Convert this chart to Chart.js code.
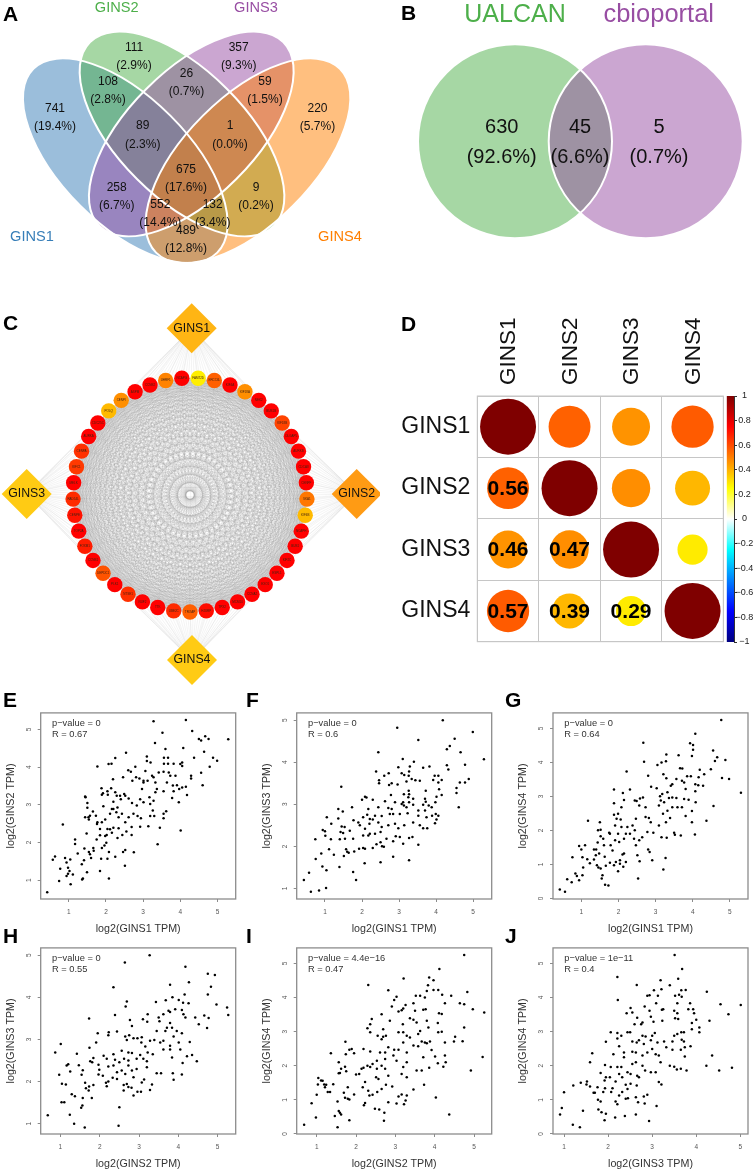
<!DOCTYPE html>
<html>
<head>
<meta charset="utf-8">
<title>GINS figure</title>
<script src="https://cdn.jsdelivr.net/npm/chart.js@4"></script>
<style>
  html, body { margin: 0; background: #fff; }
  #page { position: relative; width: 754px; height: 1170px; overflow: hidden; font-family: "Liberation Sans", Arial, sans-serif; }
  canvas { position: absolute; }
  .letter { position: absolute; font: bold 21px/21px "Liberation Sans", Arial, sans-serif; color: #000; }
</style>
</head>
<body>
<div id="page"></div>
<script>
// ---- panel A
const vennSets = ["GINS1", "GINS2", "GINS3", "GINS4"];
const vennCounts = ["741", "108", "111", "26", "357", "59", "220", "89", "1", "675", "258", "9", "552", "132", "489"];
const vennPercents = ["(19.4%)", "(2.8%)", "(2.9%)", "(0.7%)", "(9.3%)", "(1.5%)", "(5.7%)", "(2.3%)", "(0.0%)", "(17.6%)", "(6.7%)", "(0.2%)", "(14.4%)", "(3.4%)", "(12.8%)"];

// ---- panel B
const overlapSets = ["UALCAN", "cbioportal"];
const overlapCounts = ["630", "45", "5"];
const overlapPercents = ["(92.6%)", "(6.6%)", "(0.7%)"];

// ---- panel C, clockwise from the top of the ring
const ringGenes = ["FAM72D", "ERCC6L", "KIF4A", "KIF18A", "NEK2", "BUB1B", "KIF18B", "DLGAP5", "AURKB", "CDCA8", "CENPF", "SKA1", "KIF4B", "NCAPH", "BUB1", "KIF2C", "ESPL1", "EXO1", "CCNA2", "MCM10", "TPX2", "HJURP", "TROAP", "UBE2C", "TTK", "NUF2", "NTSE1", "PLK1", "DEPDC1", "CCNB1", "FOXM1", "TOP2A", "CENPE", "RAD54L", "MELK", "KIFC1", "CENPA", "AURKA", "CDC25C", "POLQ", "CENPI", "ASPM", "CCNB2", "UHRF1", "NCAPG"];
const ringScores = [0, .6, 1, .4, 1, 1, .72, 1, 1, 1, 1, .5, .22, 1, 1, 1, 1, 1, 1, 1, 1, .95, .6, .82, 1, 1, .8, 1, .65, 1, .88, 1, .92, .82, 1, .76, .8, 1, 1, .22, .4, 1, 1, .45, 1];
const hubGenes = ["GINS1", "GINS2", "GINS3", "GINS4"];
const hubScores = [.28, .5, .1, .1];

// ---- panel D
const corrLabels = ["GINS1", "GINS2", "GINS3", "GINS4"];
const corrGins1 = [1, .56, .46, .57];
const corrGins2 = [.56, 1, .47, .39];
const corrGins3 = [.46, .47, 1, .29];
const corrGins4 = [.57, .39, .29, 1];

// ---- panels E-J, [x, y] in log2 TPM
const pointsE = [[.42,.68],[.74,.98],[1.05,.89],[.57,1.54],[.63,1.63],[.77,1.3],[.9,1.59],[.94,1.47],[1.04,1.55],[.98,1.33],[1.02,1.24],[.98,1.17],[.94,1.11],[1.11,1.15],[.84,2.48],[1.17,2.08],[1.17,1.96],[1.24,1.71],[1.35,1.42],[1.41,1.53],[1.38,1.04],[1.36,1.02],[1.49,1.21],[1.42,1.84],[1.54,1.75],[1.57,1.69],[1.6,1.59],[1.66,1.85],[1.67,1.78],[1.48,2.24],[1.44,2.67],[1.44,3.22],[1.45,3.2],[1.5,3.05],[1.5,2.92],[1.53,2.67],[1.54,2.61],[1.57,2.71],[1.65,2.82],[1.73,2.71],[1.77,2.54],[1.76,2.49],[1.77,4.02],[1.88,3.44],[1.92,3.31],[1.89,3.27],[2.07,4.08],[2.15,4.09],[2.25,4.24],[2.54,4.38],[2.19,3.68],[2.04,3.36],[2.05,3.27],[2.14,3.44],[2.25,3.33],[2.29,3.24],[2.2,3.08],[2.38,3.24],[2.46,3.73],[2.49,3.29],[2.6,3.92],[2.67,3.88],[2.79,4.01],[2.71,3.64],[2.81,3.73],[2.9,3.7],[2.97,3.42],[3.01,3.59],[3.12,3.64],[3.1,4.28],[3.1,4.16],[3.2,4.12],[3.28,5.22],[3.32,4.64],[3.52,4.91],[3.6,4.48],[3.56,4.25],[3.67,4.25],[3.56,4.09],[3.67,4.09],[4.15,5.25],[4.08,4.51],[4.32,4.96],[4.5,4.75],[4.56,4.71],[4.67,4.82],[4.76,4.75],[5.29,4.74],[4.64,4.41],[4.37,4.25],[4.88,4.25],[4.99,4.17],[4.79,4.01],[4.56,3.85],[4.6,3.52],[4.29,3.77],[4.29,3.7],[4.05,4.12],[4,4.08],[3.82,4.09],[4.05,4.03],[4.18,3.26],[4.01,2.32],[3.39,1.95],[3.45,2.39],[2.75,1.74],[2.51,1.38],[2.25,1.62],[2.08,1.04],[1.84,1.24],[2.08,1.75],[2.04,1.57],[1.87,1.57],[1.96,1.92],[2.01,1.99],[1.89,1.85],[1.75,2.08],[1.84,2.19],[1.98,2.17],[2.02,2.2],[2.04,2.36],[2.11,2.35],[2.16,2.26],[2.2,2.39],[2.34,2.38],[2.31,2.12],[2.44,2.2],[2.55,2.29],[2.69,2.41],[2.92,2.42],[3.14,2.43],[2.69,2.2],[2.46,1.75],[2.52,1.8],[1.84,2.36],[1.89,2.54],[1.98,2.61],[1.93,2.96],[2.11,2.76],[2.2,2.89],[2.28,2.8],[2.34,2.67],[2.43,2.76],[2.52,2.54],[2.61,2.67],[2.7,3.05],[2.74,2.76],[2.83,2.98],[2.85,2.7],[2.94,2.64],[3.01,3.07],[3.17,3.2],[3.19,3.02],[3.28,3.11],[3.19,2.7],[3.3,2.7],[3.26,2.85],[3.55,2.64],[3.62,2.83],[3.55,2.76],[3.64,3.59],[3.69,3.86],[3.73,3.77],[3.8,3.51],[3.87,3.77],[3.91,3.52],[3.97,3.42],[4.05,3.46],[4.15,3.48],[3.96,3.07],[3.82,3.36],[3.78,3.18],[3.55,3.36],[3.37,3.42],[3.33,3.59],[3.24,3.77],[3.42,3.86],[3.55,3.88],[3.06,3.9],[3.28,3.73],[3.01,3.64],[3.33,3.33],[2.92,3.15],[2.61,3.17],[2.52,3.24],[2.4,3.15],[2.31,2.93],[2.16,2.89]];
const pointsF = [[.43,1.2],[.57,1.37],[.62,.92],[.84,.95],[1.03,1.01],[1.04,1.43],[.93,1.52],[.75,1.7],[.74,2.17],[.9,1.83],[1.11,1.93],[1.24,1.8],[1.39,1.51],[.94,2.39],[1,2.36],[1.01,2.25],[1.17,2.54],[1.05,2.69],[1.16,2.17],[1.36,2.66],[1.36,2.89],[1.48,2.83],[1.44,3.42],[1.4,2.17],[1.42,2.34],[1.45,2.47],[1.53,2.46],[1.49,2.32],[1.54,2.18],[1.51,1.77],[1.57,1.93],[1.6,1.87],[1.64,1.85],[1.67,2.37],[1.73,2.93],[1.77,2.62],[1.76,2.18],[1.79,1.88],[1.76,1.39],[1.84,1.2],[2.07,1.6],[1.92,1.94],[2.03,1.96],[2.08,1.94],[2.5,1.62],[2.84,1.75],[3.27,1.67],[2.54,2],[2.59,1.99],[2.29,1.96],[2.39,2.05],[2,3.11],[2.08,3.18],[2.12,3.16],[2.29,3.11],[2.38,3.78],[2.44,4.24],[2.46,3.57],[2.46,3.5],[2.6,3.68],[2.72,3.74],[2.95,4.82],[3.52,4.53],[4.18,5],[4.99,4.72],[4.5,4.56],[4.37,4.39],[4.29,4.31],[4.66,4.24],[5.29,4.07],[4.78,3.94],[4.29,3.93],[4.33,3.83],[4.55,3.39],[4.55,3.27],[4.64,3.52],[4.78,3.52],[4.88,3.6],[4.61,2.93],[3.1,4.08],[3.4,4.01],[3.29,3.9],[2.98,3.88],[3.65,3.87],[3.82,3.9],[3.07,3.74],[3.14,3.7],[3.27,3.78],[3.26,3.68],[3.2,3.54],[2.96,3.47],[2.8,3.5],[2.73,3.46],[3.34,3.6],[3.44,3.57],[3.56,3.56],[3.96,3.68],[4.06,3.68],[3.92,3.58],[4.15,3.58],[4.06,3.52],[4.08,3.36],[4.15,3.22],[4.01,3.18],[3.72,3.32],[3.26,3.32],[3.27,3.24],[3.13,3.24],[2.78,3.22],[2.62,3.07],[2.89,3.05],[3.11,3.05],[3.25,3.17],[3.27,3.05],[3.38,3.13],[3.38,2.99],[3.7,3.13],[3.72,3.06],[3.65,2.99],[3.8,2.97],[3.88,2.93],[3.98,3.05],[3.52,2.85],[3.52,2.73],[3.7,2.85],[3.74,2.69],[3.89,2.73],[3.99,2.77],[4.06,2.73],[3.97,2.55],[4.01,2.64],[3.65,2.43],[3.56,2.5],[3.76,2.43],[3.23,2.79],[3.02,2.77],[3.13,2.97],[3.07,3.01],[3.2,2.93],[2.71,2.91],[2.8,2.89],[2.84,2.77],[2.75,2.77],[2.53,2.72],[2.44,2.93],[2.35,2.73],[2.21,2.65],[2.14,2.75],[2.17,2.89],[2.03,2.69],[1.9,2.57],[1.94,2.5],[2.08,2.42],[2.2,2.54],[2.29,2.64],[2.44,2.57],[2.53,2.46],[2.71,2.5],[2.89,2.54],[3.14,2.5],[3.38,2.57],[2.98,2.43],[2.03,2.26],[2.17,2.26],[2.21,2.3],[2.35,2.3],[2.5,2.34],[2.5,2.1],[2.66,2.18],[2.84,2.12],[3.11,2.06],[3.27,2.2],[3.36,2.22],[3.52,2.04],[3.02,2.22],[2.91,2.24]];
const pointsG = [[.42,.26],[.56,.19],[.62,.56],[.74,.47],[.76,1.21],[.84,.73],[.94,.53],[.88,.66],[1.03,.68],[1.05,.91],[.94,1.54],[1,1.44],[1.1,1.56],[1.03,1.21],[1.16,1.15],[1.23,1.03],[1.34,1.14],[1.42,.97],[1.46,.91],[1.52,.88],[1.57,.68],[1.55,.58],[1.64,.4],[1.73,.38],[1.18,2.28],[1.5,2.24],[1.34,1.44],[1.4,1.44],[1.44,1.64],[1.48,1.32],[1.39,1.27],[1.45,2],[1.52,2.02],[1.52,1.83],[1.59,1.75],[1.61,1.56],[1.75,1.93],[1.77,1.9],[1.79,1.56],[1.84,1.41],[1.63,1.22],[1.66,.96],[1.77,1.05],[1.88,.97],[1.93,1.07],[1.99,.8],[2.04,1.12],[2.04,1.02],[2.13,.93],[2.2,1.07],[2.11,1.29],[2.15,1.32],[1.91,1.71],[2.02,1.66],[2.15,1.75],[1.99,1.9],[2.08,2.1],[1.91,2.14],[1.88,2.46],[1.95,2.34],[2.06,2.32],[1.99,2.49],[1.88,2.8],[1.88,3.2],[2.08,2.68],[2.12,3.1],[2.31,3.2],[2.22,3.73],[2.15,2.89],[2.44,2.88],[2.49,2.86],[2.58,2.94],[2.66,2.97],[2.67,4.58],[2.69,4.02],[2.8,3.61],[2.88,3.28],[3.03,3.24],[3.05,3.92],[3.16,4],[3.28,4.03],[3.29,4.23],[3.62,4.21],[3.93,4.56],[4.01,4.51],[4.07,4.84],[4.01,4.37],[3.98,4.19],[4.77,5.25],[4.55,4.35],[4.66,4.15],[4.6,4.04],[4.88,4.07],[4.49,3.8],[4.19,3.78],[4.31,3.65],[4.16,3.56],[4.79,3.54],[4.98,3.51],[5.3,3.11],[4.56,2.72],[4.37,2.28],[4.06,1.88],[3.98,2.24],[3.98,2.57],[4.08,2.83],[4.07,3.15],[4.28,3.31],[4.15,3.33],[4.07,3.36],[3.85,3.59],[3.95,3.59],[3.66,3.83],[3.72,3.82],[3.71,3.46],[3.77,3.41],[3.81,3.22],[3.56,3.51],[3.45,3.36],[3.41,3.31],[3.29,3.53],[3.21,3.65],[3.32,3.12],[3.18,3.07],[3.12,3],[3.14,2.88],[3.09,2.73],[3.23,2.83],[3.36,2.95],[3.45,2.97],[3.56,2.95],[3.45,2.68],[3.59,2.68],[3.71,2.68],[3.77,2.92],[3.89,2.9],[3.81,2.42],[3.32,2.58],[3.2,2.49],[3.39,2.36],[3.28,2.24],[3.5,1.93],[3.68,1.85],[3.52,1.87],[3.3,1.78],[3.16,1.8],[3.27,1.19],[3.21,.85],[2.91,1.12],[2.84,1.36],[2.8,1.44],[2.53,.58],[2.57,1.09],[2.51,1.27],[2.47,1.56],[2.56,1.71],[2.64,1.8],[2.78,1.95],[2.94,1.93],[3.09,2.14],[2.87,2.24],[2.73,2.39],[2.82,2.36],[2.47,2.34],[2.56,2.73],[2.73,2.68],[2.38,2.14],[2.44,2],[2.24,2.1],[2.31,1.9],[2.2,1.9],[2.42,1.75]];
const pointsH = [[.68,1.2],[1.03,1.51],[1.1,1.51],[1.24,1.21],[1.35,1],[1.62,.91],[2.48,.95],[2.5,1.39],[1.53,1.38],[1.56,1.43],[1.57,1.61],[1.8,1.61],[1.37,1.65],[1.29,1.7],[1.72,1.79],[1.73,1.88],[1.65,1.84],[1.63,1.97],[1.84,1.92],[1.54,2.16],[1.57,2.27],[1.47,2.39],[1.42,2.66],[1.25,2.24],[1.2,2.41],[1.16,2.38],[1.14,1.93],[1.04,1.95],[.97,2.16],[.87,2.69],[1.01,2.89],[1.74,2.8],[1.73,3.5],[1.95,3.15],[1.91,2.93],[1.76,2.48],[1.81,2.46],[1.84,2.56],[1.97,2.4],[1.97,2.17],[1.99,2.28],[2.08,2.14],[2.16,1.97],[2.18,1.89],[2.22,2],[2.33,2.09],[2.44,2.06],[2.61,1.79],[2.86,1.67],[2.96,1.76],[3.05,1.76],[3.28,1.8],[2.73,1.87],[2.61,1.92],[2.69,1.94],[2.81,1.85],[3.07,1.98],[3.13,2.05],[3.33,1.93],[2.35,4.24],[2.64,4.83],[3.27,5],[4.18,4.73],[4.27,4.36],[4.75,4.56],[4.93,4.53],[4.83,4.25],[4.75,4.07],[4.97,3.83],[5.24,3.76],[5.27,3.58],[3.79,4.3],[4.16,4.07],[3.68,3.93],[3.85,4],[3.43,3.89],[2.69,3.9],[2.66,3.78],[2.39,3.58],[2.44,3.19],[2.23,3.17],[2.22,3.1],[3.22,3.6],[3.1,3.48],[3.21,3.42],[2.77,3.46],[2.82,3.32],[2.75,3.1],[2.65,3.07],[2.69,2.99],[2.86,3.03],[2.96,3.03],[3.07,3.05],[3.06,2.93],[3.16,2.83],[3.22,2.69],[3.28,2.97],[3.39,2.99],[3.35,2.65],[3.5,3.52],[3.52,3.43],[3.62,3.6],[3.75,3.68],[3.79,3.65],[3.92,3.72],[4.09,3.7],[4.13,3.6],[4.01,3.94],[4.12,3.87],[4.26,3.86],[4.18,3.52],[4.43,3.52],[4.66,3.57],[4.77,3.51],[4.52,3.36],[4.73,3.27],[3.71,3.28],[3.79,3.39],[3.84,3.28],[3.67,3.2],[3.45,3.2],[3.96,3.2],[4.09,3.15],[3.88,3.07],[3.62,2.97],[3.54,2.93],[3.79,2.85],[4.01,2.93],[4.29,2.94],[3.62,2.76],[3.79,2.76],[4.05,2.76],[4.35,2.63],[4.22,2.6],[4.47,2.48],[3.84,2.57],[4.11,2.44],[4.09,2.17],[3.86,2.2],[3.88,2.04],[3.56,2.2],[3.45,2.2],[3.03,2.63],[3.11,2.54],[3.2,2.48],[2.94,2.54],[2.82,2.68],[2.73,2.69],[2.56,2.73],[2.35,2.65],[2.1,2.61],[2.39,2.52],[2.62,2.54],[2.73,2.5],[2.5,2.46],[2.18,2.54],[2.22,2.36],[2.35,2.38],[2.44,2.22],[2.56,2.26],[2.73,2.38],[2.82,2.26],[2.94,2.3],[3.2,2.34],[2.65,2.18],[2.86,2.1]];
const pointsI = [[.68,.27],[.98,.48],[.87,.9],[1,1.15],[1.03,1.45],[1.04,1.64],[1.11,1.57],[1.15,1.56],[1.19,1.45],[1.21,1.37],[1.24,1.44],[1.28,1.23],[1.34,1.23],[1.42,1.46],[1.36,2.37],[1.46,.53],[1.53,.2],[1.56,.67],[1.59,.62],[1.62,.57],[1.53,.95],[1.83,.4],[1.69,1.21],[1.72,1.06],[1.79,1.03],[1.83,1.01],[1.79,1.37],[1.95,1.16],[1.56,2.1],[1.56,1.78],[1.59,1.79],[1.62,1.91],[1.72,1.97],[1.75,1.84],[1.73,2.7],[1.74,2.34],[1.83,2.47],[1.89,2.49],[1.95,2.37],[2,1.74],[2.08,1.76],[2.14,1.91],[2.19,1.94],[2.19,2.49],[2.36,2.42],[2.31,4.37],[2.2,.84],[2.23,.91],[2.17,1.37],[2.23,1.52],[2.31,1.27],[2.34,1.13],[2.42,1.15],[2.48,.74],[2.59,.72],[2.72,.62],[2.71,.39],[2.82,.93],[2.65,1.32],[2.54,1.23],[2.76,1.44],[2.92,1.39],[3.03,.89],[3.08,1.1],[3.16,1.16],[3.22,.87],[3.26,.98],[3.29,1.13],[3.46,1.3],[4.37,.57],[4.03,1.07],[3.73,1.44],[4.92,1.86],[5.22,2.26],[4.75,5.25],[4.12,4.84],[3.21,4.56],[3.86,4.59],[3.97,4.51],[3.83,4.36],[3.8,4.19],[3.97,4.22],[4.09,4.22],[4.19,4.08],[4.42,4.05],[4.83,4.16],[2.82,4.21],[3.03,4.02],[2.97,3.93],[2.91,3.74],[3.52,4.05],[3.63,4.05],[3.75,4],[3.46,3.83],[3.26,3.78],[4.26,3.83],[4.64,3.83],[4.75,3.8],[4.97,3.66],[5.26,3.56],[4.11,3.54],[4.18,3.52],[4.75,3.12],[4.71,2.72],[4.52,2.85],[4.49,2.71],[4.26,2.68],[4.26,2.3],[4.28,2.1],[4.22,1.97],[4.08,2.07],[4.01,2.27],[3.92,2.46],[3.86,1.94],[3.88,2.71],[3.8,2.66],[3.75,2.68],[4.09,2.98],[4.18,3],[4.08,3.25],[3.8,3.32],[3.84,3.12],[3.71,3.64],[3.77,3.66],[3.5,3.61],[3.37,3.39],[3.46,3.35],[3.54,3.27],[3.08,3.59],[3.16,3.63],[3.2,3.68],[3.19,3.22],[2.65,3.51],[2.4,3.37],[2.36,3.22],[2.29,3.1],[2.36,2.98],[2.55,2.88],[2.65,2.78],[2.69,3.07],[2.76,2.88],[2.86,3.32],[2.69,2.85],[3.08,2.98],[3.2,2.98],[3.29,2.88],[3.37,2.83],[3.63,3.02],[3.58,2.93],[3.2,2.68],[3.08,2.47],[2.97,2.47],[2.82,2.54],[2.74,2.39],[2.61,2.39],[2.95,2.3],[3.29,2.39],[3.46,2.59],[3.58,2.57],[3.67,2.71],[3.71,2.25],[3.54,1.86],[3.67,1.86],[3.29,2.1],[3.2,1.96],[3.16,1.76],[3.29,1.66],[3.03,2.15],[2.74,2.2],[2.53,2.15],[2.42,2.05],[2.53,1.91],[2.65,2],[2.74,1.91],[2.82,1.71],[2.51,1.66],[2.57,1.61],[2.36,1.96],[2.29,2]];
const pointsJ = [[.91,.57],[.95,.76],[1,1.22],[1.2,.27],[1.36,.2],[1.43,.68],[1.21,1.42],[1.38,1.5],[1.52,1.54],[1.51,1.45],[1.59,1.39],[1.59,2.1],[1.64,2.37],[1.67,1.21],[1.7,1.21],[1.76,1.37],[1.77,1],[1.78,.72],[1.85,.64],[1.92,.4],[1.95,.59],[1.83,.95],[1.93,1.34],[1.89,1.23],[1.83,1.79],[1.93,2.02],[1.95,1.66],[1.92,1.57],[1.95,2.7],[2.12,2.34],[2.06,2.98],[2.21,4.6],[2.22,3.93],[2.21,2.96],[2.21,2.8],[2.3,2.88],[2.25,2.57],[2.36,2.39],[2.44,2.98],[2.5,2.98],[2.42,3.54],[2.51,3.69],[2.55,3.56],[2.6,3.22],[2.65,4.37],[2.66,3.41],[2.78,3.27],[2.75,3.22],[2.83,3.74],[2.89,4.05],[2.94,4.07],[2.94,3.61],[2.97,3.44],[3.04,4.21],[3.13,4.05],[3.19,4.51],[3.21,4.24],[3.09,3.83],[3.22,3.64],[3.25,3.66],[3.23,3.32],[3.03,3.29],[3.4,4.36],[3.51,5.25],[3.68,4.84],[3.59,4.55],[3.66,4.21],[3.76,4.22],[3.61,4.08],[3.52,4.05],[3.67,4.02],[3.57,3.83],[3.5,3.61],[3.57,3.54],[3.52,3.39],[3.59,3.37],[3.86,3.83],[3.82,3.66],[3.93,3.66],[3.95,3.54],[3.9,3.25],[4,3.35],[3.9,3.07],[4.07,3.12],[4.07,2.98],[4.24,4.17],[4.55,3.8],[4.73,3.51],[5.01,3.78],[4.3,3.32],[4.36,2.3],[4.23,2],[4.52,1.86],[4.81,1.94],[3.87,2.57],[3.72,2.98],[3.66,2.98],[3.67,2.76],[3.72,2.71],[3.74,2.54],[3.74,2.27],[3.78,1.86],[3.65,1.91],[3.56,1.89],[3.5,1.97],[3.4,2],[3.57,2.93],[3.5,2.88],[3.46,2.71],[3.65,2.47],[3.46,2.47],[3.27,2.71],[3.32,2.54],[3.12,2.68],[3,2.88],[2.97,2.75],[3.06,2.96],[2.85,2.86],[2.78,2.88],[2.7,2.75],[2.65,2.68],[2.81,2.64],[2.55,2.71],[2.36,2.25],[2.55,2.41],[2.63,2.39],[2.78,2.3],[2.89,2.39],[3,2.49],[3.08,2.34],[3.15,2.3],[3.19,2.1],[3.08,1.81],[2.97,1.81],[2.84,1.86],[2.78,2],[2.63,2.1],[2.55,2.05],[2.7,1.66],[2.66,1.71],[3.15,1.52],[3.21,1.45],[3.1,.82],[2.93,.38],[2.63,.57],[2.38,.53],[2.16,.48],[2.21,.87],[2.17,.95],[2.4,1.03],[2.45,1.05],[2.63,1.08],[2.68,.93],[2.83,.89],[2.81,1.1],[2.89,1.15],[2.65,1.42],[2.51,1.47],[2.4,1.44],[2.44,1.32],[2.32,1.23],[2.25,1.13],[2.1,1.34],[2.07,1.23],[2.32,1.66],[2.25,1.76],[2.44,1.81],[2.21,1.96],[2.3,1.96],[2.06,1.96],[2.17,1.54],[2.04,1.66],[2.51,1.76]];

const scatterNames = ["E", "F", "G", "H", "I", "J"];
const xTitles = ["log2(GINS1 TPM)", "log2(GINS1 TPM)", "log2(GINS1 TPM)", "log2(GINS2 TPM)", "log2(GINS2 TPM)", "log2(GINS3 TPM)"];
const yTitles = ["log2(GINS2 TPM)", "log2(GINS3 TPM)", "log2(GINS4 TPM)", "log2(GINS3 TPM)", "log2(GINS4 TPM)", "log2(GINS4 TPM)"];
const pValues = ["p\u2212value = 0", "p\u2212value = 0", "p\u2212value = 0", "p\u2212value = 0", "p\u2212value = 4.4e\u221216", "p\u2212value = 1e\u221211"];
const rValues = ["R = 0.67", "R = 0.6", "R = 0.64", "R = 0.55", "R = 0.47", "R = 0.4"];

const FONT = '"Liberation Sans", Arial, sans-serif';
const page = document.getElementById("page");
Chart.defaults.font.family = FONT;
Chart.defaults.animation = false;
Chart.defaults.responsive = false;
Chart.defaults.layout.autoPadding = false;
Chart.defaults.plugins.legend.display = false;
Chart.defaults.plugins.tooltip.enabled = false;

function addChart(left, top, width, height, config) {
  const canvas = document.createElement("canvas");
  canvas.width = width;
  canvas.height = height;
  canvas.style.left = left + "px";
  canvas.style.top = top + "px";
  canvas.style.width = width + "px";
  canvas.style.height = height + "px";
  page.appendChild(canvas);
  return new Chart(canvas.getContext("2d"), config);
}

function addLetter(text, left, top) {
  const d = document.createElement("div");
  d.className = "letter";
  d.textContent = text;
  d.style.left = left + "px";
  d.style.top = top + "px";
  page.appendChild(d);
}

// scales in page pixels, for the panels that have no axes
function pixelScales(left, top, width, height) {
  return {
    x: { type: "linear", display: false, min: left, max: left + width },
    y: { type: "linear", display: false, min: top, max: top + height, reverse: true }
  };
}

// text items: {x, y, text, font, color}
const textItems = {
  id: "textItems",
  afterDatasetsDraw(chart, args, opts) {
    const ctx = chart.ctx;
    ctx.save();
    ctx.textAlign = "center";
    ctx.textBaseline = "middle";
    (opts.items || []).forEach(t => {
      ctx.font = t.font;
      ctx.fillStyle = t.color || "#111";
      ctx.fillText(t.text, chart.scales.x.getPixelForValue(t.x), chart.scales.y.getPixelForValue(t.y));
    });
    ctx.restore();
  }
};

// ---- A: four ellipses
const ellipseX = [125.3, 182, 191.3, 248];
const ellipseY = [160.7, 134, 134, 160.7];
const ellipseTilt = [45, 45, -45, -45];
const vennColors = ["#377EB8", "#4DAF4A", "#984EA3", "#FF7F00"];
const ellipses = {
  id: "ellipses",
  beforeDatasetsDraw(chart) {
    const ctx = chart.ctx, sx = chart.scales.x, sy = chart.scales.y;
    const trace = i => {
      ctx.beginPath();
      ctx.ellipse(sx.getPixelForValue(ellipseX[i]), sy.getPixelForValue(ellipseY[i]), 130, 63.7, ellipseTilt[i] * Math.PI / 180, 0, 2 * Math.PI);
    };
    ctx.save();
    ctx.globalAlpha = 0.5;
    vennColors.forEach((c, i) => { ctx.fillStyle = c; trace(i); ctx.fill(); });
    ctx.globalAlpha = 1;
    ctx.strokeStyle = "#fff";
    ctx.lineWidth = 2;
    vennColors.forEach((c, i) => { trace(i); ctx.stroke(); });
    ctx.restore();
  }
};
const vennX = [55, 108, 134, 186.5, 238.7, 265, 317.5, 142.7, 230, 186, 116.7, 256, 160.3, 212.7, 186];
const vennY = [117.7, 90.7, 56.3, 82.5, 56.3, 90.7, 117.7, 135, 135, 178.5, 196.5, 196.5, 213.5, 213.5, 239.5];
const vennItems = [];
vennCounts.forEach((c, i) => {
  vennItems.push({ x: vennX[i], y: vennY[i] - 9, text: c, font: "12px " + FONT });
  vennItems.push({ x: vennX[i], y: vennY[i] + 9.3, text: vennPercents[i], font: "12px " + FONT });
});
const vennNameX = [32, 116.7, 256, 340];
const vennNameY = [236.5, 7.5, 7.5, 236.5];
vennSets.forEach((s, i) => vennItems.push({ x: vennNameX[i], y: vennNameY[i], text: s, font: "14.6px " + FONT, color: vennColors[i] }));
addChart(0, 0, 380, 280, {
  type: "scatter",
  data: { datasets: [{ data: ellipseX.map((x, i) => ({ x, y: ellipseY[i] })), pointRadius: 0 }] },
  options: { scales: pixelScales(0, 0, 380, 280), plugins: { textItems: { items: vennItems } } },
  plugins: [ellipses, textItems]
});

// ---- B: two circles, fills first and the white outlines over both
const overlapColors = ["rgba(77,175,74,.5)", "rgba(152,78,163,.5)"];
const overlapCentres = [{ x: 515, y: 141.3 }, { x: 645.7, y: 141.3 }];
const overlapItems = [
  { x: 515, y: 15, text: overlapSets[0], font: "25px " + FONT, color: "#4DAF4A" },
  { x: 658.7, y: 15, text: overlapSets[1], font: "25.5px " + FONT, color: "#984EA3" }
];
[501.7, 580, 659].forEach((x, i) => {
  overlapItems.push({ x, y: 127, text: overlapCounts[i], font: "20px " + FONT });
  overlapItems.push({ x, y: 157.5, text: overlapPercents[i], font: "20px " + FONT });
});
addChart(380, 0, 374, 270, {
  type: "scatter",
  data: { datasets: [
    { data: [overlapCentres[0]], pointRadius: 97, backgroundColor: overlapColors[0], borderWidth: 0, clip: false, order: 3 },
    { data: [overlapCentres[1]], pointRadius: 97, backgroundColor: overlapColors[1], borderWidth: 0, clip: false, order: 2 },
    { data: overlapCentres, pointRadius: 97, backgroundColor: "rgba(0,0,0,0)", borderColor: "#fff", borderWidth: 2, clip: false, order: 1 }
  ] },
  options: { scales: pixelScales(380, 0, 374, 270), plugins: { textItems: { items: overlapItems } } },
  plugins: [textItems]
});

// ---- C: network
const RING_X = 190, RING_Y = 495, RING_R = 117;
const ringPoints = ringGenes.map((g, i) => {
  const a = (4 + i * 8) * Math.PI / 180;
  return { x: RING_X + RING_R * Math.sin(a), y: RING_Y - RING_R * Math.cos(a) };
});
const hubPoints = [{ x: 191.7, y: 328.3 }, { x: 356.7, y: 494 }, { x: 26.7, y: 494 }, { x: 192, y: 660 }];
const scoreColor = s => `rgb(255,${Math.round(238 * (1 - s))},0)`;

const meshEdges = [];
ringPoints.forEach((p, i) => {
  for (let j = i + 1; j < ringPoints.length; j++) meshEdges.push(p, ringPoints[j], { x: NaN, y: NaN });
});
const hubEdges = [];
hubPoints.forEach(h => ringPoints.forEach(p => hubEdges.push(h, p, { x: NaN, y: NaN })));

const networkItems = [];
ringGenes.forEach((g, i) => networkItems.push({ x: ringPoints[i].x, y: ringPoints[i].y, text: g, font: "3px " + FONT, color: "#421" }));
hubGenes.forEach((g, i) => networkItems.push({ x: hubPoints[i].x, y: hubPoints[i].y, text: g, font: "12.3px " + FONT, color: "#111" }));
addChart(0, 290, 380, 400, {
  type: "scatter",
  data: { datasets: [
    { data: hubEdges, showLine: true, spanGaps: false, pointRadius: 0, borderColor: "rgba(200,200,200,.4)", borderWidth: .5, order: 4 },
    { data: meshEdges, showLine: true, spanGaps: false, pointRadius: 0, borderColor: "rgba(140,140,140,.38)", borderWidth: .4, order: 3 },
    { data: ringPoints, pointRadius: 7.7, backgroundColor: ringScores.map(scoreColor), borderWidth: 0, order: 2 },
    { data: hubPoints, pointStyle: "rectRot", pointRadius: 25, backgroundColor: hubScores.map(s => `rgb(255,${Math.round(215 - 120 * s)},20)`), borderWidth: 0, clip: false, order: 1 }
  ] },
  options: { scales: pixelScales(0, 290, 380, 400), plugins: { textItems: { items: networkItems } } },
  plugins: [textItems]
});

// ---- D: correlation plot
const corrRows = [corrGins1, corrGins2, corrGins3, corrGins4];
const rampStops = ["#00007F", "#0000FF", "#007FFF", "#00FFFF", "#FFFFFF", "#FFFF00", "#FF7F00", "#FF0000", "#7F0000"];
function rampColor(v) {
  const t = (v + 1) * 4, i = Math.min(7, Math.floor(t)), f = t - i;
  const ch = (h, k) => parseInt(h.slice(k, k + 2), 16);
  const mix = k => Math.round(ch(rampStops[i], k) + (ch(rampStops[i + 1], k) - ch(rampStops[i], k)) * f);
  return `rgb(${mix(1)},${mix(3)},${mix(5)})`;
}
const corrCells = [];
corrRows.forEach((row, r) => row.forEach((v, c) => corrCells.push({ x: corrLabels[c], y: corrLabels[r], r: 28 * Math.sqrt(v), v })));
const corrNumbers = {
  id: "corrNumbers",
  afterDatasetsDraw(chart) {
    const ctx = chart.ctx;
    ctx.save();
    ctx.font = "bold 21px " + FONT;
    ctx.fillStyle = "#000";
    ctx.textAlign = "center";
    ctx.textBaseline = "middle";
    corrRows.forEach((row, r) => row.forEach((v, c) => {
      if (c < r) ctx.fillText(v.toFixed(2), chart.scales.x.getPixelForValue(c), chart.scales.y.getPixelForValue(r) + 1);
    }));
    ctx.restore();
  }
};
const corrBox = {
  id: "corrBox",
  beforeDatasetsDraw(chart) {
    const { left, top, width, height } = chart.chartArea, ctx = chart.ctx;
    ctx.save();
    ctx.strokeStyle = "#c6c6c6";
    ctx.lineWidth = 1;
    ctx.strokeRect(left, top, width, height);
    ctx.restore();
  }
};
addChart(400, 310, 354, 336, {
  type: "bubble",
  data: { datasets: [{ data: corrCells, backgroundColor: ctx => rampColor(ctx.raw.v), borderWidth: 0 }] },
  options: {
    layout: { padding: { right: 30.7, bottom: 4.3 } },
    scales: {
      x: {
        type: "category", labels: corrLabels, position: "top", offset: true,
        afterFit: s => { s.height = 86; s.paddingLeft = 0; s.paddingRight = 0; },
        grid: { offset: true, color: "#c6c6c6", drawTicks: false },
        border: { display: false },
        ticks: { minRotation: 90, maxRotation: 90, autoSkip: false, padding: 11, labelOffset: 28, color: "#111", font: { size: 22.5 } }
      },
      y: {
        type: "category", labels: corrLabels, offset: true,
        afterFit: s => { s.width = 77.3; s.paddingTop = 0; s.paddingBottom = 0; },
        grid: { offset: true, color: "#c6c6c6", drawTicks: false },
        border: { display: false },
        ticks: { autoSkip: false, padding: 7, color: "#111", font: { size: 23 } }
      }
    }
  },
  plugins: [corrBox, corrNumbers]
});

// colour bar
addChart(726, 390, 28, 258, {
  type: "bar",
  data: { labels: ["r"], datasets: [{
    data: [[-1, 1]],
    barPercentage: 1, categoryPercentage: 1,
    backgroundColor: ctx => {
      const a = ctx.chart.chartArea;
      if (!a) return "#000";
      const g = ctx.chart.ctx.createLinearGradient(0, a.bottom, 0, a.top);
      rampStops.forEach((c, i) => g.addColorStop(i / 8, c));
      return g;
    }
  }] },
  options: {
    layout: { padding: { left: .7, top: 6, bottom: 6 } },
    scales: {
      x: { display: false },
      y: {
        position: "right", min: -1, max: 1,
        afterFit: s => { s.width = 20; s.paddingTop = 0; s.paddingBottom = 0; },
        grid: { drawOnChartArea: false, color: "#333", tickLength: 3 },
        border: { color: "#333" },
        ticks: { stepSize: .2, padding: -1.5, color: "#222", font: { size: 9 }, crossAlign: "center",
          callback: v => String(Math.round(v * 10) / 10).replace("-", "\u2212") }
      }
    }
  }
});

// ---- E-J: scatter panels
const boxLeft = [40.7, 296.7, 553, 40.7, 296.7, 553];
const canvasLeft = [0, 250, 504, 0, 250, 504];
const boxTop = [711.7, 711.7, 711.7, 946.7, 946.7, 946.7];
const xRanges = [[.245, 5.49], [.237, 5.5], [.237, 5.49], [.5, 5.459], [.491, 5.45], [.75, 5.174]];
const yRanges = [[.499, 5.44], [.747, 5.175], [-.02, 5.456], [.754, 5.175], [-.001, 5.455], [-.001, 5.455]];
const scatterSets = [pointsE, pointsF, pointsG, pointsH, pointsI, pointsJ];

const plotFrame = {
  id: "plotFrame",
  afterDatasetsDraw(chart, args, opts) {
    const { left, top, width, height } = chart.chartArea, ctx = chart.ctx;
    ctx.save();
    ctx.strokeStyle = "#8c8c8c";
    ctx.lineWidth = 1.3;
    ctx.strokeRect(left, top, width, height);
    ctx.fillStyle = "#333";
    ctx.font = "9.3px " + FONT;
    ctx.textBaseline = "middle";
    ctx.fillText(opts.p, left + 11.3, top + 10.5);
    ctx.fillText(opts.r, left + 11.3, top + 21.5);
    ctx.restore();
  }
};

scatterNames.forEach((name, i) => {
  const margin = boxLeft[i] - canvasLeft[i];
  const padTop = 10;
  addChart(canvasLeft[i], boxTop[i] - padTop, Math.ceil(margin + 195 + 4), padTop + 187 + 40, {
    type: "scatter",
    data: { datasets: [{ data: scatterSets[i].map(p => ({ x: p[0], y: p[1] })), pointRadius: 1.25, backgroundColor: "#000", borderWidth: 0 }] },
    options: {
      layout: { padding: { top: padTop, right: Math.ceil(margin + 199) - margin - 195 } },
      scales: {
        x: {
          min: xRanges[i][0], max: xRanges[i][1],
          afterFit: s => { s.height = 40; },
          grid: { display: true, drawOnChartArea: false, color: "#8c8c8c", tickLength: 3 },
          border: { display: false },
          ticks: { stepSize: 1, includeBounds: false, padding: 6, maxRotation: 0, color: "#555", font: { size: 6.5 } },
          title: { display: true, text: xTitles[i], color: "#333", font: { size: 10.7 }, padding: { top: 0, bottom: 4 } }
        },
        y: {
          min: yRanges[i][0], max: yRanges[i][1],
          afterFit: s => { s.width = margin; },
          grid: { display: true, drawOnChartArea: false, color: "#8c8c8c", tickLength: 3 },
          border: { display: false },
          ticks: { stepSize: 1, includeBounds: false, padding: 7, minRotation: 90, maxRotation: 90, crossAlign: "center", color: "#555", font: { size: 6.5 } },
          title: { display: true, text: yTitles[i], color: "#333", font: { size: 10.7 }, padding: { top: margin - 36, bottom: 0 } }
        }
      },
      plugins: { plotFrame: { p: pValues[i], r: rValues[i] } }
    },
    plugins: [plotFrame]
  });
});

// panel letters
[["A", 3, 3], ["B", 401, 2], ["C", 3, 312], ["D", 401, 313], ["E", 3, 689], ["F", 246, 689], ["G", 505, 689], ["H", 3, 925], ["I", 246, 925], ["J", 505, 925]]
  .forEach(l => addLetter(l[0], l[1], l[2]));
</script>
</body>
</html>
